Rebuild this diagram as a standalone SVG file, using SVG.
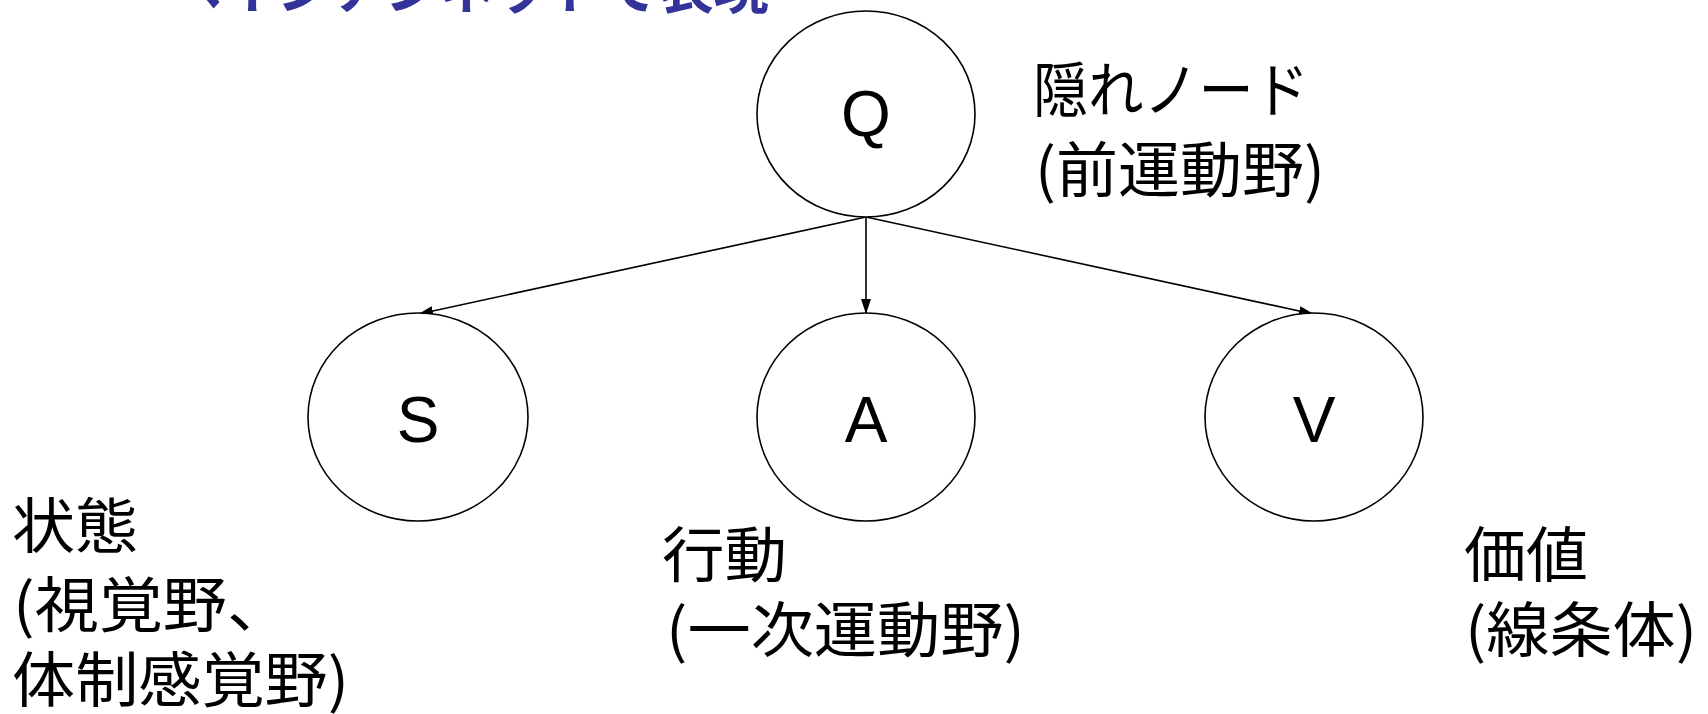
<svg xmlns="http://www.w3.org/2000/svg" width="1708" height="714" viewBox="0 0 1708 714">
<style>
.node{fill:#fff;stroke:#000;stroke-width:1.6}
.edge{stroke:#000;stroke-width:1.6;fill:none}
.let{font-family:"Liberation Sans",Arial,sans-serif;font-size:64px;fill:#000;text-anchor:middle}
.jp{font-family:"Noto Sans CJK JP","Noto Sans CJK SC",sans-serif;font-size:60px;fill:#000}
.title{font-family:"Noto Sans CJK JP","Noto Sans CJK SC",sans-serif;font-size:55px;font-weight:bold;fill:#333399}
</style>
<defs>
<marker id="ah" markerUnits="userSpaceOnUse" markerWidth="15" markerHeight="10" refX="14" refY="5" orient="auto">
<path d="M0,0 L15,5 L0,10 z" fill="#000"/>
</marker>
</defs>
<rect width="1708" height="714" fill="#fff"/>
<text class="title" x="167" y="8">ベイジアンネットで表現</text>
<g id="connectors">
<line class="edge" x1="866" y1="217" x2="419" y2="314" marker-end="url(#ah)"/>
<line class="edge" x1="866" y1="217" x2="866" y2="313" marker-end="url(#ah)"/>
<line class="edge" x1="866" y1="217" x2="1313" y2="314" marker-end="url(#ah)"/>
</g>
<g id="node-Q">
<ellipse class="node" cx="866" cy="114" rx="109" ry="103"/>
<text class="let" x="866" y="136">Q</text>
</g>
<g id="node-S">
<ellipse class="node" cx="418" cy="417" rx="110" ry="104"/>
<text class="let" x="418" y="442">S</text>
</g>
<g id="node-A">
<ellipse class="node" cx="866" cy="417" rx="109" ry="104"/>
<text class="let" x="866" y="442">A</text>
</g>
<g id="node-V">
<ellipse class="node" cx="1314" cy="417" rx="109" ry="104"/>
<text class="let" x="1314" y="442">V</text>
</g>
<g id="label-Q">
<text class="jp" x="1033" y="112" textLength="276" lengthAdjust="spacingAndGlyphs">隠れノード</text>
<text class="jp" x="1035" y="192" textLength="290" lengthAdjust="spacingAndGlyphs">(前運動野)</text>
</g>
<g id="label-S">
<text class="jp" x="12" y="548" textLength="126" lengthAdjust="spacingAndGlyphs">状態</text>
<text class="jp" x="13" y="627" textLength="278" lengthAdjust="spacingAndGlyphs">(視覚野、</text>
<text class="jp" x="12" y="702" textLength="337" lengthAdjust="spacingAndGlyphs">体制感覚野)</text>
</g>
<g id="label-A">
<text class="jp" x="662" y="577" textLength="125" lengthAdjust="spacingAndGlyphs">行動</text>
<text class="jp" x="666" y="652" textLength="359" lengthAdjust="spacingAndGlyphs">(一次運動野)</text>
</g>
<g id="label-V">
<text class="jp" x="1464" y="577" textLength="124" lengthAdjust="spacingAndGlyphs">価値</text>
<text class="jp" x="1465" y="652" textLength="232" lengthAdjust="spacingAndGlyphs">(線条体)</text>
</g>
</svg>
